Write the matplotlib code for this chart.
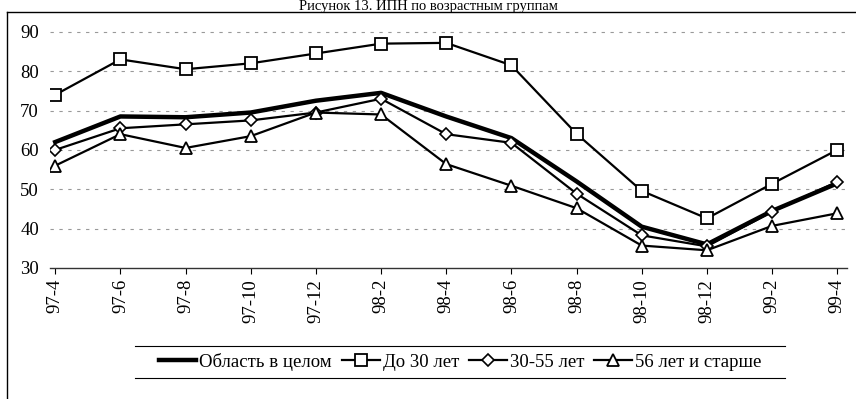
import matplotlib.pyplot as plt
from matplotlib.lines import Line2D

plt.rcParams['font.family'] = ['Liberation Serif', 'DejaVu Serif']

periodos = ["97-4", "97-6", "97-8", "97-10", "97-12", "98-2", "98-4",
            "98-6", "98-8", "98-10", "98-12", "99-2", "99-4"]
oblast = [62, 68.5, 68.3, 69.5, 72.5, 74.5, 68.5, 63, 52, 40.5, 36, 44.5, 51.5]
do_30 = [74, 83, 80.5, 82, 84.5, 87, 87.2, 81.5, 64.1, 49.6, 42.6, 51.4, 60]
ot_30_55 = [60, 65.5, 66.5, 67.5, 69.5, 73, 64, 61.8, 48.9, 38.3, 35.5, 44.3, 51.9]
ot_56 = [56, 64, 60.5, 63.5, 69.5, 69, 56.4, 50.9, 45.2, 35.7, 34.5, 40.7, 43.9]

W, H = 856, 399
fig = plt.figure(figsize=(W / 100, H / 100), dpi=100)
ax = fig.add_axes([50 / W, 1 - 268 / H, 797 / W, (268 - 22) / H])

x = range(len(periodos))
ax.plot(x, oblast, color="black", lw=3.2, label="Область в целом")
ax.plot(x, do_30, color="black", lw=1.6, marker="s", ms=8, mfc="white",
        mec="black", mew=1.3, label="До 30 лет")
ax.plot(x, ot_30_55, color="black", lw=1.6, marker="D", ms=6, mfc="white",
        mec="black", mew=1.2, label="30-55 лет")
ax.plot(x, ot_56, color="black", lw=1.6, marker="^", ms=8, mfc="white",
        mec="black", mew=1.3, label="56 лет и старше")

ax.set_ylim(30, 92.5)
ax.set_xlim(-0.08, 12.15)
ax.set_yticks(range(30, 91, 10))
for yv in range(40, 91, 10):
    ax.axhline(yv, color="#999999", lw=0.8, ls=(0, (3, 5)), zorder=0)

ax.set_xticks(list(x))
ax.set_xticklabels(periodos, rotation=90, fontsize=13.5)
ax.tick_params(axis="y", length=0, labelsize=13.5, pad=8)
ax.tick_params(axis="x", length=4, width=0.8, direction="out", pad=4)
for s in ["top", "right", "left"]:
    ax.spines[s].set_visible(False)
ax.spines["bottom"].set_linewidth(1.0)
ax.spines["bottom"].set_color("#333333")

# leyenda en una fila bajo las etiquetas
handles, labels = ax.get_legend_handles_labels()
leg = fig.legend(handles, labels, loc="center", ncol=4,
                 bbox_to_anchor=(460 / W, 1 - 362 / H),
                 fontsize=13.5, frameon=False,
                 handlelength=2.0, handletextpad=0.15, columnspacing=0.55)
for yl in (346, 378):
    fig.add_artist(Line2D([135 / W, 785 / W], [1 - yl / H, 1 - yl / H],
                          color="black", lw=0.8))

# marco exterior
fig.add_artist(Line2D([7 / W, 7 / W], [0, 1 - 12 / H], color="black", lw=1.0))
fig.add_artist(Line2D([7 / W, 1], [1 - 12 / H, 1 - 12 / H], color="black", lw=1.0))

fig.text(0.5, 1, "Рисунок 13. ИПН по возрастным группам",
         ha="center", va="top", fontsize=10.5)

fig.savefig("out.png", dpi=100)
